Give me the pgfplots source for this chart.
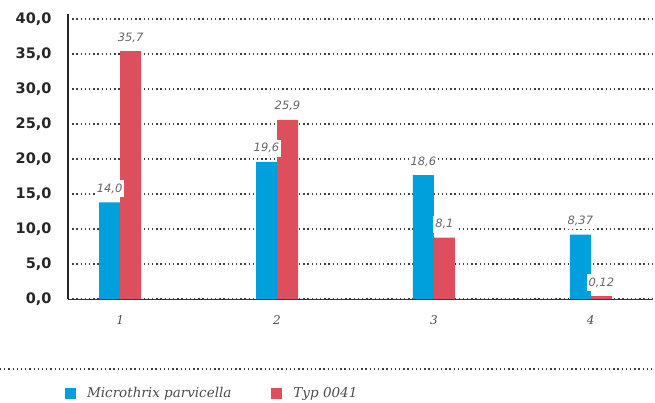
\documentclass[border=0pt]{standalone}
\usepackage{fontspec}
\usepackage{pgfplots}
\usepackage{pgfplotstable}
\pgfplotsset{compat=1.18}
\setmainfont{DejaVu Sans}
\newfontfamily\labfont{DejaVu Sans}
\newfontfamily\serfont{DejaVu Serif}
\definecolor{cblue}{RGB}{0,160,220}
\definecolor{cred}{RGB}{222,79,94}

\pgfplotstableread{
x  y     lab
1  13.8  {14,0}
2  19.6  {19,6}
3  17.7  {18,6}
4  9.2   {8,37}
}\bluedata
\pgfplotstableread{
x  y     lab
1  35.4  {35,7}
2  25.6  {25,9}
3  8.75  {8,1}
4  0.4   {0,12}
}\reddata

\begin{document}
\begin{tikzpicture}
\begin{axis}[
  at={(0,0)}, anchor=south west,
  scale only axis,
  width=584pt, height=285pt,
  xmin=0.668, xmax=4.39,
  ymin=0, ymax=40.71,
  axis lines*=left,
  x axis line style={black!80, line width=1pt},
  y axis line style={black!85, line width=1.5pt},
  ybar, bar width=21pt,
  ytick={0,5,...,40},
  xtick={1,2,3,4},
  xticklabels={1,2,3,4},
  major tick length=0pt,
  ymajorgrids,
  major grid style={black!75, line width=1.2pt, dash pattern=on 1.3pt off 2.9pt},
  /pgf/number format/assume math mode=true,
  yticklabel={\pgfmathprintnumber[fixed,fixed zerofill,precision=1,use comma]{\tick}},
  yticklabel style={font=\bfseries\fontsize{14.5}{16}\selectfont, text=black!85, xshift=-13pt},
  xticklabel style={font=\serfont\itshape\fontsize{12}{14}\selectfont, text=black!70, yshift=-13.5pt},
  legend columns=2,
  legend style={at={(axis description cs:-0.005,-0.33)}, anchor=west, draw=none, fill=none,
    inner sep=0pt, outer sep=0pt,
    font=\serfont\itshape\fontsize{13.5}{15}\selectfont, text=black!70,
    /tikz/every odd column/.append style={column sep=9pt},
    /tikz/every even column/.append style={column sep=38pt}},
  legend image code/.code={\fill[#1,draw=none] (0pt,-5.5pt) rectangle (11pt,5.5pt);},
  clip=false,
]
\addplot[fill=cblue, draw=none, bar shift=-10.5pt] table[x=x,y=y] {\bluedata};
\addlegendentry{Microthrix parvicella}
\addplot[fill=cred, draw=none, bar shift=10.5pt] table[x=x,y=y] {\reddata};
\addlegendentry{Typ 0041}
\addplot[draw=none, fill=none, bar shift=-10.5pt, forget plot,
  nodes near coords, point meta=explicit symbolic,
  every node near coord/.append style={fill=white, inner xsep=2pt, inner ysep=3.5pt,
    anchor=south, yshift=5pt, text=black!60, font=\labfont\itshape\fontsize{11.5}{13}\selectfont}]
  table[x=x,y=y,meta=lab] {\bluedata};
\addplot[draw=none, fill=none, bar shift=10.5pt, forget plot,
  nodes near coords, point meta=explicit symbolic,
  every node near coord/.append style={fill=white, inner xsep=2pt, inner ysep=3.5pt,
    anchor=south, yshift=5pt, text=black!60, font=\labfont\itshape\fontsize{11.5}{13}\selectfont}]
  table[x=x,y=y,meta=lab] {\reddata};
\end{axis}
\draw[black!75, line width=1.2pt, dash pattern=on 1.3pt off 2.9pt] (-68pt,-70pt) -- (587pt,-70pt);
\pgfresetboundingbox
\path (-68pt,-103pt) rectangle (587pt,299pt);
\end{tikzpicture}
\end{document}
